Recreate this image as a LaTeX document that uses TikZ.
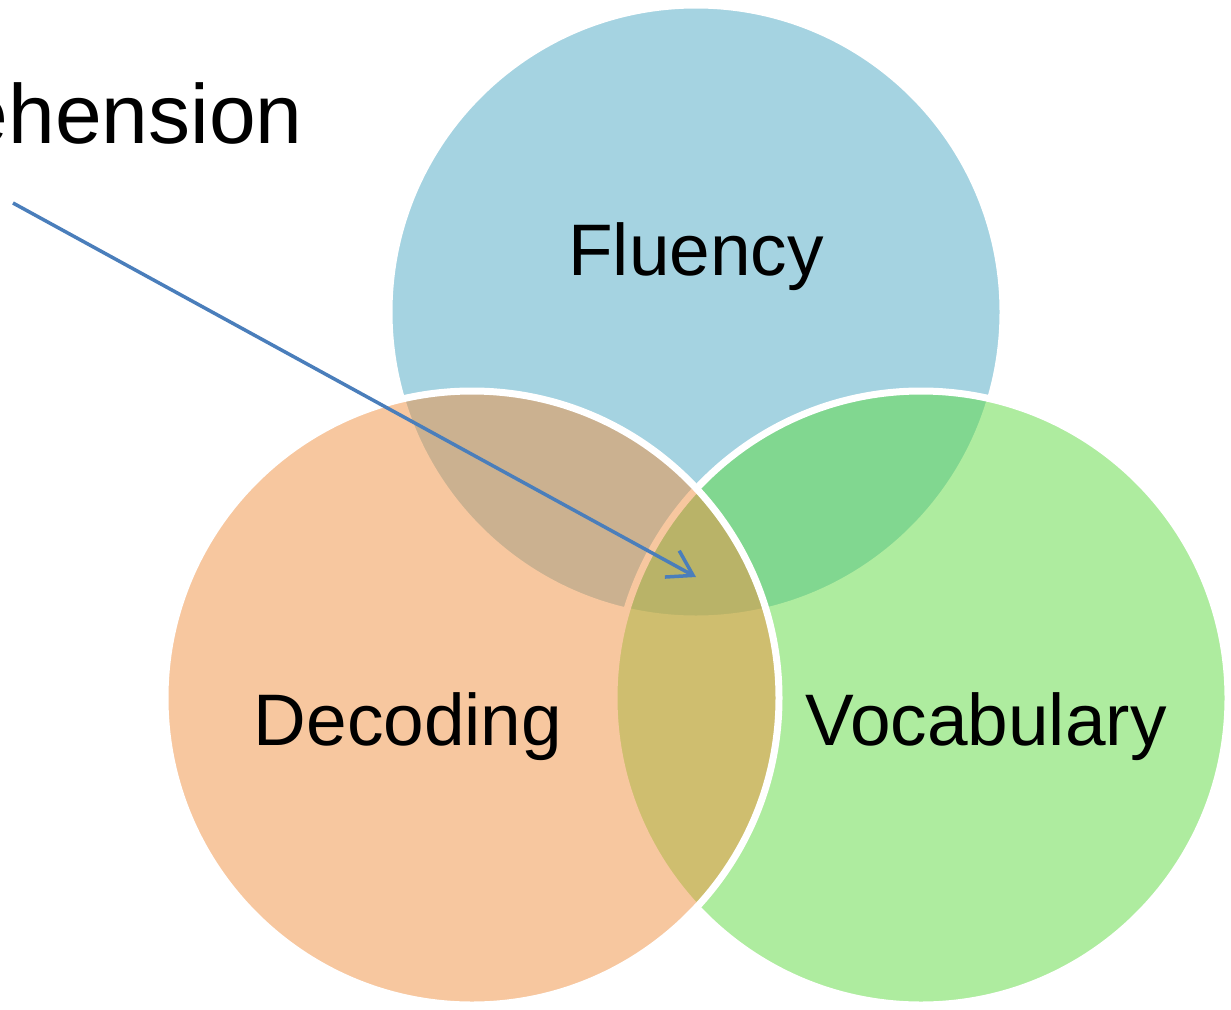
\documentclass[tikz,border=0pt]{standalone}
\usepackage{fontspec}
\setmainfont{Liberation Sans}
\usetikzlibrary{arrows.meta}
\definecolor{fluc}{RGB}{77,169,197}
\definecolor{decc}{RGB}{241,145,65}
\definecolor{vocc}{RGB}{95,219,65}
\definecolor{arrc}{RGB}{74,126,187}
\tikzset{
  venn/.style={circle, minimum size=614pt, inner sep=0pt, draw=white, line width=7pt, fill opacity=0.5, draw opacity=1},
  lbl/.style={inner sep=0pt, anchor=base, font=\fontsize{73}{88}\selectfont},
  pointer/.style={draw=arrc, line width=3.5pt, -{Straight Barb[length=24pt,width=30pt,line width=3.5pt]}}
}
\begin{document}
\begin{tikzpicture}[x=1pt,y=-1pt]
\useasboundingbox (0,0) rectangle (1231,1009);
\clip (0,0) rectangle (1231,1009);
\fill[white] (0,0) rectangle (1231,1009);
\node[venn, fill=fluc] (flu) at (696,312) {};
\node[venn, fill=vocc] (voc) at (921,698) {};
\node[venn, fill=decc] (dec) at (472,698) {};
\node[lbl] (flut) at (696,275) {Fluency};
\node[lbl] (dect) at (408,745) {Decoding};
\node[lbl] (voct) at (986,745) {Vocabulary};
\node[inner sep=0pt, anchor=base east, font=\fontsize{84}{100}\selectfont] (comp) at (303,143) {Comprehension};
\coordinate (src) at (13,203);
\coordinate (tgt) at (696,577);
\draw[pointer] (src) -- (tgt);
\end{tikzpicture}
\end{document}
